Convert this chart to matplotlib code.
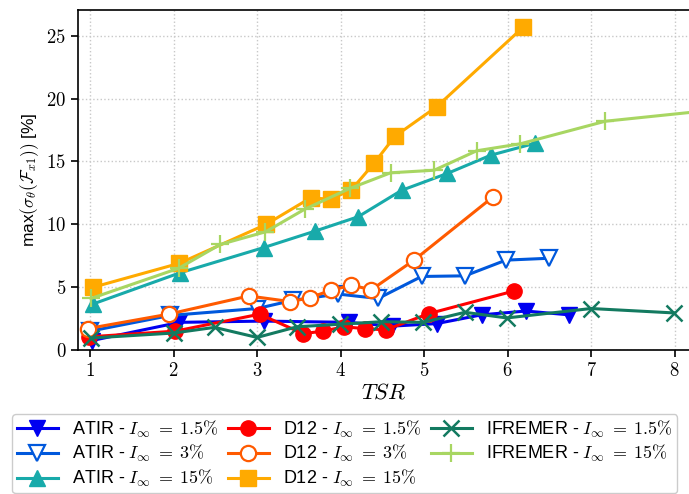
import matplotlib
matplotlib.use("Agg")
import matplotlib.pyplot as plt
from matplotlib.ticker import FuncFormatter

plt.rcParams['font.family'] = ['Liberation Sans', 'DejaVu Sans']
plt.rcParams['mathtext.fontset'] = 'cm'

# ATIR data
atir_15_x = [1.02, 2.07, 3.08, 4.10, 4.62, 5.15, 5.69, 6.22, 6.73]
atir_15_y = [0.75, 2.2, 2.3, 2.2, 1.9, 2.1, 2.8, 3.1, 2.8]
atir_3_x = [1.0, 1.96, 3.0, 3.43, 3.97, 4.45, 4.97, 5.49, 5.98, 6.50]
atir_3_y = [1.5, 2.75, 3.3, 3.95, 4.45, 4.1, 5.85, 5.9, 7.15, 7.3]
atir_150_x = [1.03, 2.08, 3.08, 3.69, 4.21, 4.73, 5.28, 5.80, 6.33]
atir_150_y = [3.65, 6.15, 8.15, 9.45, 10.6, 12.7, 14.05, 15.5, 16.45]

# D12 data
d12_15_x = [0.99, 2.02, 3.03, 3.55, 3.79, 4.04, 4.29, 4.54, 5.06, 6.08]
d12_15_y = [1.05, 1.5, 2.85, 1.3, 1.5, 1.85, 1.7, 1.6, 2.9, 4.7]
d12_3_x = [0.97, 1.94, 2.90, 3.40, 3.63, 3.88, 4.13, 4.37, 4.88, 5.82]
d12_3_y = [1.7, 2.85, 4.3, 3.85, 4.15, 4.75, 5.15, 4.8, 7.15, 12.15]
d12_150_x = [1.04, 2.07, 3.11, 3.64, 3.88, 4.13, 4.40, 4.65, 5.15, 6.19]
d12_150_y = [5.0, 6.9, 10.0, 12.1, 12.0, 12.75, 14.85, 17.0, 19.35, 25.7]

# IFREMER data
ifr_15_x = [1.01, 2.0, 2.49, 3.0, 3.48, 3.99, 4.49, 4.99, 5.49, 5.99, 7.0, 7.99]
ifr_15_y = [0.95, 1.35, 1.8, 1.0, 1.85, 2.05, 2.25, 2.2, 3.0, 2.55, 3.3, 2.95]
ifr_150_x = [1.01, 2.06, 2.56, 3.10, 3.57, 4.11, 4.60, 5.12, 5.63, 6.15, 7.17, 9.2]
ifr_150_y = [4.1, 6.5, 8.4, 9.4, 11.2, 12.85, 14.1, 14.3, 15.85, 16.4, 18.2, 19.6]

fig = plt.figure(figsize=(6.89, 4.94), dpi=100)
ax = fig.add_axes([78 / 689, 144 / 494, 612 / 689, 340 / 494])

lw = 2.2
ms = 11
ax.plot(atir_15_x, atir_15_y, color='#0000f0', marker='v', ms=ms, lw=lw,
        label=r'ATIR - $I_\infty \;=\; 1.5\%$')
ax.plot(atir_3_x, atir_3_y, color='#0058dc', marker='v', ms=ms, lw=lw,
        mfc='white', mew=1.6, label=r'ATIR - $I_\infty \;=\; 3\%$')
ax.plot(atir_150_x, atir_150_y, color='#18aaaa', marker='^', ms=ms, lw=lw,
        label=r'ATIR - $I_\infty \;=\; 15\%$')
ax.plot(d12_15_x, d12_15_y, color='#ff0000', marker='o', ms=ms, lw=lw,
        label=r'D12 - $I_\infty \;=\; 1.5\%$')
ax.plot(d12_3_x, d12_3_y, color='#ff5a00', marker='o', ms=ms, lw=lw,
        mfc='white', mew=1.6, label=r'D12 - $I_\infty \;=\; 3\%$')
ax.plot(d12_150_x, d12_150_y, color='#ffaa00', marker='s', ms=ms, lw=lw,
        label=r'D12 - $I_\infty \;=\; 15\%$')
ax.plot(ifr_15_x, ifr_15_y, color='#137a60', marker='x', ms=ms, mew=1.8, lw=lw,
        label=r'IFREMER - $I_\infty \;=\; 1.5\%$')
ax.plot(ifr_150_x, ifr_150_y, color='#a8d662', marker='+', ms=13, mew=1.6, lw=lw,
        label=r'IFREMER - $I_\infty \;=\; 15\%$')

ax.set_xlim(0.855, 8.185)
ax.set_ylim(0, 27.05)
ax.set_xticks(range(1, 9))
ax.set_yticks(range(0, 26, 5))
ax.xaxis.set_major_formatter(FuncFormatter(lambda v, p: r'$%d$' % v))
ax.yaxis.set_major_formatter(FuncFormatter(lambda v, p: r'$%d$' % v))
ax.tick_params(labelsize=13.5, length=5, width=1.2, direction='out')
ax.grid(True, linestyle=':', color='#c8c8c8', lw=1)
for s in ax.spines.values():
    s.set_linewidth(1.2)

ax.set_xlabel(r'$TSR$', fontsize=16, labelpad=2)
ax.set_ylabel(r'max$(\sigma_\theta(\mathcal{F}_{x1}))$ [%]', fontsize=12.5)

fig.legend(loc='upper left', bbox_to_anchor=(12 / 689, 1 - 414 / 494), ncol=3,
           fontsize=13, handlelength=2.3, handletextpad=0.75, columnspacing=0.5,
           labelspacing=0.2, borderpad=0.25, borderaxespad=0,
           edgecolor='#cccccc', framealpha=1)

fig.savefig('out.png', dpi=100)
